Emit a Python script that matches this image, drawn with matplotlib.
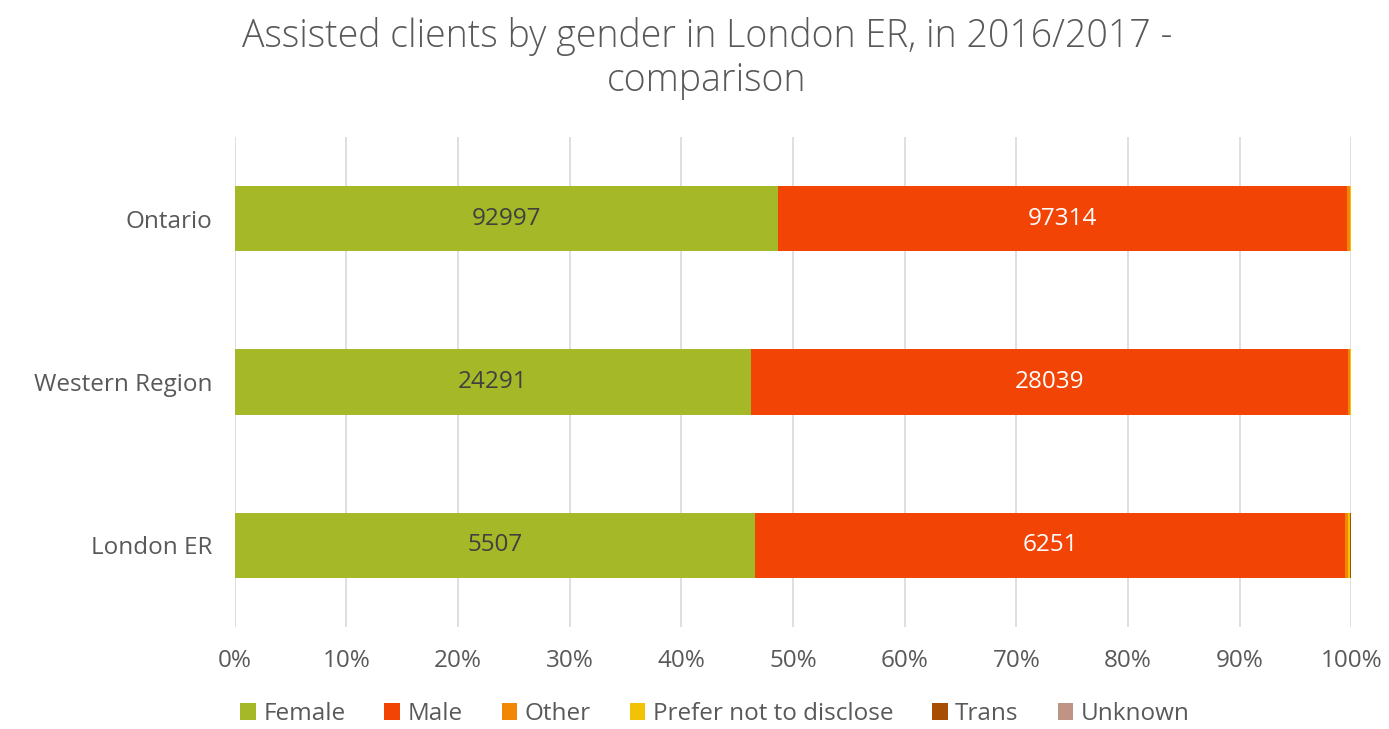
import matplotlib.pyplot as plt
import numpy as np

plt.rcParams['font.family'] = ['Open Sans', 'DejaVu Sans']

regions = ['London ER', 'Western Region', 'Ontario']
series = ['Female', 'Male', 'Other', 'Prefer not to disclose', 'Trans', 'Unknown']
female = [5507, 24291, 92997]
male = [6251, 28039, 97314]
other = [30, 110, 420]
prefer = [22, 40, 150]
trans = [8, 20, 90]
unknown = [4, 15, 60]
colors = ['#A5B827', '#F24405', '#F28705', '#F2C305', '#A64F03', '#BF9484']

values = np.array([female, male, other, prefer, trans, unknown], dtype=float)
pct = values / values.sum(axis=0) * 100

fig = plt.figure(figsize=(13.89, 7.29), dpi=100)
ax = fig.add_axes([0.169, 0.14, 0.804, 0.672])

y = np.arange(len(regions))
left = np.zeros(len(regions))
for i, name in enumerate(series):
    ax.barh(y, pct[i], left=left, height=0.4, color=colors[i], label=name, zorder=2)
    if i < 2:
        for j in range(len(regions)):
            ax.text(left[j] + pct[i][j] / 2, y[j], f'{int(values[i][j])}',
                    ha='center', va='center', fontsize=17.5,
                    color='#404040' if i == 0 else 'white', zorder=3)
    left += pct[i]

ax.set_xlim(0, 100)
ax.set_ylim(-0.5, 2.5)
ax.set_xticks(np.arange(0, 101, 10))
ax.set_xticklabels([f'{t}%' for t in range(0, 101, 10)])
ax.set_yticks(y)
ax.set_yticklabels(regions)
ax.tick_params(axis='both', length=0, labelsize=17.5, colors='#595959')
ax.tick_params(axis='x', pad=16)
ax.tick_params(axis='y', pad=16)
ax.grid(axis='x', color='#D9D9D9', linewidth=1.2, zorder=0)
for s in ax.spines.values():
    s.set_visible(False)

fig.suptitle('Assisted clients by gender in London ER, in 2016/2017 -\ncomparison',
             x=0.509, y=0.977, fontsize=27, color='#595959', fontweight='light',
             linespacing=1.2)

ax.legend(loc='center', bbox_to_anchor=(0.43, -0.178), ncol=6, frameon=False,
          fontsize=17.5, labelcolor='#595959', handlelength=0.65, handleheight=0.65,
          handletextpad=0.3, columnspacing=1.6)

fig.savefig('out.png', dpi=100)
